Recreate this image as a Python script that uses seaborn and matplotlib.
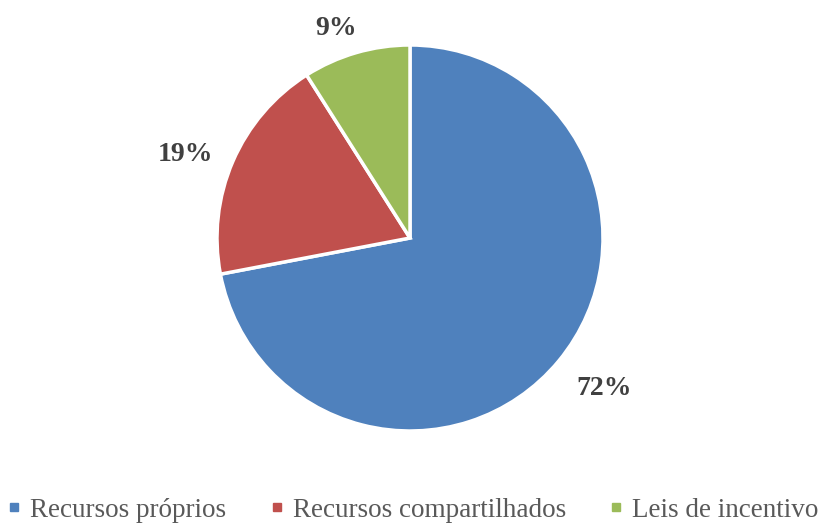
import matplotlib
matplotlib.use("Agg")
import matplotlib.pyplot as plt
import seaborn as sns
import numpy as np
from matplotlib.lines import Line2D

categories = ["Recursos próprios", "Recursos compartilhados", "Leis de incentivo"]
values = [72, 19, 9]
labels = ["72%", "19%", "9%"]
colors = ["#4F81BD", "#C0504D", "#9BBB59"]

sns.set_theme(style="white")
plt.rcParams['font.family'] = ['Liberation Serif', 'DejaVu Serif']

fig = plt.figure(figsize=(8.22, 5.27), dpi=100)
R = 193.0
ax = fig.add_axes([217/822, (527-431)/527, 386/822, 386/527])
wedges, _ = ax.pie(values, colors=colors, startangle=90, counterclock=False,
                   radius=1, wedgeprops=dict(edgecolor="white", linewidth=2.5))
ax.set_xlim(-1, 1)
ax.set_ylim(-1, 1)
ax.set_aspect("equal")
ax.axis("off")

# label placement along each wedge's mid angle, with small pixel nudges
dists = [1.27, 1.25, 1.18]
nudges = [(5, -6), (-3, 12), (-10, 9)]  # (right, down) in px
for w, lab, d, (dx, dy) in zip(wedges, labels, dists, nudges):
    ang = np.deg2rad((w.theta1 + w.theta2) / 2)
    x, y = d * np.cos(ang) + dx / R, d * np.sin(ang) - dy / R
    ax.text(x, y, lab, ha="center", va="center", fontsize=20,
            fontweight="bold", color="#404040", clip_on=False)

handles = [Line2D([0], [0], marker="s", linestyle="none", markersize=6,
                  markerfacecolor=c, markeredgecolor=c) for c in colors]
fig.legend(handles, categories, loc="lower center", ncol=3, frameon=False,
           bbox_to_anchor=(0.5, -0.038), fontsize=19.5, labelcolor="#595959",
           handletextpad=0.2, columnspacing=1.45, handlelength=0.8)

fig.savefig("out.png", dpi=100, facecolor="white")
